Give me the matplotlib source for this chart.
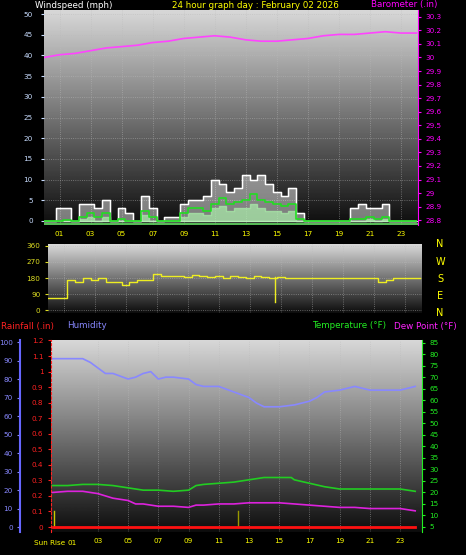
import numpy as np
import matplotlib
matplotlib.use("Agg")
import matplotlib.pyplot as plt

# ---- data ----
hh = np.arange(0, 24.01, 0.5)
gust = [0,0,3,3,0,4,4,3,5,0,3,2,0,6,3,0,1,1,4,5,5,6,10,9,7,8,11,10,11,9,7,6,8,2,0,0,0,0,0,0,3,4,3,3,4,0,0,0,0]
avg = [0,0,0,0.3,0,1,2,1,2,0,0.5,0,0,2.5,1,0,0,0,2,3,3,2.5,4,5.5,4,4.5,5,6.5,5,4.5,4,3.5,4,0.5,0,0,0,0,0,0,0.5,0.5,1,0.5,1,0,0,0,0]
low = [0,0,0,0,0,0.5,1,0,1,0,0,0,0,1.5,0,0,0,0,1,2,2,1.5,3,3.5,2.5,3,3,4,3,2.5,2.5,2,2.5,0,0,0,0,0,0,0,0,0,0.5,0,0.5,0,0,0,0]
baro_h = np.arange(0, 25)
baro = [30.0,30.02,30.03,30.05,30.07,30.08,30.09,30.11,30.12,30.14,30.15,30.16,30.15,30.13,30.12,30.12,30.13,30.14,30.16,30.17,30.17,30.18,30.19,30.18,30.18]
wdir = [70,70,70,170,160,180,170,180,160,160,140,160,170,170,200,190,190,190,185,195,190,185,190,180,190,185,180,190,185,180,185,180,180,180,180,180,180,180,180,180,180,180,180,160,170,180,180,180,180]
hum_h = [0,1,2,2.5,3,3.5,4,5,5.5,6,6.5,7,7.5,8,9,9.5,10,11,12,13,13.5,14,14.5,15,16,17,17.5,18,19,19.5,20,20.5,21,22,23,24]
hum = [91,91,91,89,86,83,83,80,81,83,84,80,81,81,80,77,76,76,73,70,67,65,65,65,66,68,70,73,74,75,76,75,74,74,74,76]
t_h = [0,1,2,3,4,5,6,7,8,9,9.5,10,11,12,13,14,15,15.8,16,17,18,19,20,21,22,23,24]
temp = [23,23,23.5,23.5,23,22,21,21,20.5,21,23,23.5,24,24.5,25.5,26.5,26.5,26.5,25.5,24,22.5,21.5,21.5,21.5,21.5,21.5,20.5]
d_h = [0,1,2,3,4,5,5.5,6,7,8,9,9.5,10,11,12,13,14,15,16,17,18,19,20,21,22,23,24]
dew = [20,20.5,20.5,19.5,17.5,16.5,15,15,14,14,13.5,14.5,14.5,15,15,15.5,15.5,15.5,15,14.5,14,13.5,13.5,13,13,13,12]
rain_h = [0, 24]
rain = [0, 0]
hour_ticks = [1,3,5,7,9,11,13,15,17,19,21,23]

W, H = 466, 555
fig = plt.figure(figsize=(W/100, H/100), dpi=100, facecolor='black')
FS = 5.2

def ax_at(l, t, r, b):
    return fig.add_axes([l/W, 1-b/H, (r-l)/W, (b-t)/H])

def grad(ax):
    g = np.linspace(0.05, 0.85, 256).reshape(-1, 1)
    ax.imshow(g, cmap='gray', vmin=0, vmax=1, aspect='auto', extent=[0,1,0,1],
              transform=ax.transAxes, origin='lower', zorder=0)
    ax.grid(True, color='#bbbbbb', ls=':', lw=0.6, alpha=0.6)
    ax.set_axisbelow(True)
    for s in ax.spines.values():
        s.set_visible(False)

# ---- top panel ----
ax1 = ax_at(44, 10, 418, 225)
grad(ax1)
ax1.set_xlim(0, 24.1)
ax1.set_ylim(-1, 51)
ax1.set_yticks(range(0, 51, 5))
ax1.set_xticks(hour_ticks)
ax1.set_xticklabels([f"{h:02d}" for h in hour_ticks])
ax1.tick_params(axis='y', colors='#c8dcff', labelsize=FS, length=2, pad=6)
ax1.tick_params(axis='x', colors='#ffff00', labelsize=FS, length=0, pad=4)
ax1.fill_between(hh, gust, step='mid', color='white', alpha=0.45, zorder=3)
ax1.step(hh, gust, where='mid', color='white', lw=1.0, zorder=3)
ax1.fill_between(hh, low, step='mid', color='#aaeeaa', alpha=0.7, zorder=3)
ax1.step(hh, avg, where='mid', color='#22dd22', lw=1.2, zorder=4)
ax1.axhline(-0.8, color='#66dd66', lw=1.2, zorder=4)
ax1.axhline(0, color='#dddddd', lw=0.8, zorder=2)
ax1b = ax1.twinx()
ax1b.set_ylim(28.765, 30.35)
ax1b.set_yticks(np.round(np.arange(28.8, 30.31, 0.1), 1))
ax1b.set_yticklabels([f"{v:g}" for v in np.round(np.arange(28.8, 30.31, 0.1), 1)])
ax1b.tick_params(axis='y', colors='#ff00ff', labelsize=FS, length=2)
ax1b.spines['right'].set_color('#ff00ff')
for s in ['left', 'top', 'bottom']:
    ax1b.spines[s].set_visible(False)
ax1b.plot(baro_h, baro, color='#ff44ff', lw=1.2)
fig.text(35/W, 1-5/H, "Windspeed (mph)", color='white', fontsize=6.3, va='center')
fig.text(172/W, 1-5/H, "24 hour graph day : February 02 2026", color='#ffff00', fontsize=6.3, va='center')
fig.text(371/W, 1-5/H, "Barometer (.in)", color='#ff00ff', fontsize=6.3, va='center')

# ---- middle panel ----
ax2 = ax_at(48, 244, 422, 313)
grad(ax2)
ax2.set_xlim(0, 24.1)
ax2.set_ylim(-15, 370)
ax2.set_yticks([0, 90, 180, 270, 360])
ax2.set_xticks(hour_ticks)
ax2.tick_params(axis='x', length=0, labelbottom=False)
ax2.tick_params(axis='y', colors='#dddd22', labelsize=FS, length=2)
ax2.step(hh, wdir, where='mid', color='#eeee22', lw=1.0, zorder=3)
ax2.plot([14.6, 14.6], [185, 45], color='#eeee22', lw=1.0, zorder=3)
for lab, y in zip("NWSEN", [244, 262, 279, 296, 313]):
    fig.text(440/W, 1-y/H, lab, color='#ffff00', fontsize=7, ha='center', va='center')

fig.text(1/W, 1-326/H, "Rainfall (.in)", color='#ff2222', fontsize=6.3, va='center')
fig.text(67/W, 1-326/H, "Humidity", color='#8888ff', fontsize=6.3, va='center')
fig.text(312/W, 1-326/H, "Temperature (°F)", color='#22ee22', fontsize=6.3, va='center')
fig.text(394/W, 1-326/H, "Dew Point (°F)", color='#ff22ff', fontsize=6.3, va='center')

# ---- bottom panel ----
ax3 = ax_at(51, 340, 422, 532)
grad(ax3)
ax3.set_xlim(-0.1, 24.45)
ax3.set_ylim(-2.7, 101.1)
ax3.set_xticks([3,5,7,9,11,13,15,17,19,21,23])
ax3.set_xticklabels([f"{h:02d}" for h in [3,5,7,9,11,13,15,17,19,21,23]])
ax3.tick_params(axis='x', colors='#ffff00', labelsize=FS, length=0, pad=4)
ax3.set_yticks([])
ax3.plot(hum_h, hum, color='#8888ff', lw=1.2, zorder=3)
axh = ax3.twinx()
axh.set_ylim(-2.7, 101.1)
axh.yaxis.set_ticks_position('left')
axh.spines['left'].set_position(('outward', 22))
axh.spines['left'].set_color('#6666ff')
axh.spines['left'].set_linewidth(1.5)
for s in ['right', 'top', 'bottom']:
    axh.spines[s].set_visible(False)
axh.set_yticks(range(0, 101, 10))
axh.tick_params(axis='y', colors='#8888ff', labelsize=FS, length=2)
axr = ax3.twinx()
axr.set_ylim(-0.032, 1.203)
axr.yaxis.set_ticks_position('left')
axr.spines['left'].set_color('#ff2222')
axr.spines['left'].set_linestyle((0, (2, 2)))
for s in ['right', 'top', 'bottom']:
    axr.spines[s].set_visible(False)
axr.set_yticks(np.round(np.arange(0, 1.21, 0.1), 1))
axr.set_yticklabels([f"{v:g}" for v in np.round(np.arange(0, 1.21, 0.1), 1)])
axr.tick_params(axis='y', colors='#ff2222', labelsize=FS, length=2)
axr.plot(rain_h, rain, color='#ff1111', lw=2, zorder=5)
axr.plot([0.1, 0.1], [0, 0.1], color='#cccc00', lw=1)
axr.plot([12.3, 12.3], [0, 0.1], color='#999900', lw=1)
axt = ax3.twinx()
axt.set_ylim(2.8, 86.3)
axt.set_yticks(range(5, 86, 5))
axt.tick_params(axis='y', colors='#22ee22', labelsize=FS, length=2)
axt.spines['right'].set_color('#22ee22')
for s in ['left', 'top', 'bottom']:
    axt.spines[s].set_visible(False)
axt.plot(t_h, temp, color='#22cc22', lw=1.2)
axt.plot(d_h, dew, color='#dd22dd', lw=1.2)
fig.text(50/W, 1-543/H, "Sun Rise", color='#ffff00', fontsize=FS, ha='center', va='center')
fig.text(72/W, 1-543/H, "01", color='#ffff00', fontsize=FS, ha='center', va='center')

fig.savefig("out.png", dpi=100, facecolor='black')
